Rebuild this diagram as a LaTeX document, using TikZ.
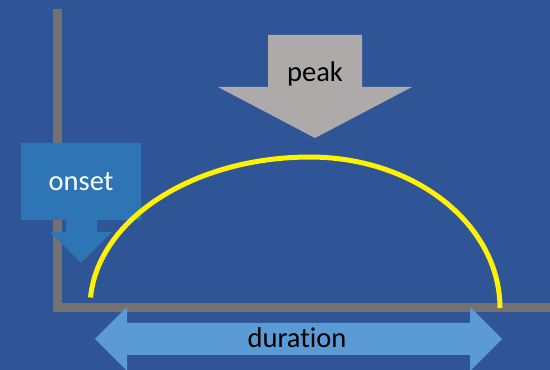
\documentclass[tikz,border=0pt]{standalone}
\usepackage{fontspec}
\setmainfont{Carlito}[Ligatures=NoCommon]
\definecolor{bgblue}{HTML}{2F5597}
\definecolor{axisgray}{HTML}{767171}
\definecolor{onsetblue}{HTML}{2E75B6}
\definecolor{peakgray}{HTML}{AEAAAA}
\definecolor{spanblue}{HTML}{5B9BD5}
\tikzstyle{axis}=[draw=axisgray,line width=9.5pt,line join=miter]
\tikzstyle{curve}=[draw=yellow,line width=5pt]
\tikzstyle{tag}=[inner sep=0pt,font=\fontsize{28.5}{32}\selectfont]

\begin{document}
\begin{tikzpicture}[x=1pt,y=1pt]
	\useasboundingbox (0,0) rectangle (550,370);
	\fill[bgblue] (0,0) rectangle (550,370);
	% axes
	\draw[axis] (57.5,361) -- (57.5,62.5) -- (552,62.5);
	% peak arrow
	\fill[peakgray] (268,335) -- (362,335) -- (362,283) -- (412,283) --
		(315,232) -- (218,283) -- (268,283) -- cycle;
	\node (peak) [tag,text=black] at (315,296) {peak};
	% onset callout
	\fill[onsetblue] (21,227) -- (141,227) -- (141,150) -- (97,150) --
		(97,138) -- (112,138) -- (81,107) -- (50,138) -- (66,138) --
		(66,150) -- (21,150) -- cycle;
	\node (onset) [tag,text=white] at (81,188) {onset};
	% response curve
	\draw[curve] (90.5,72.5) arc[start angle=176,end angle=90,x radius=220,y radius=151]
		arc[start angle=90,end angle=0,x radius=190,y radius=151];
	% duration arrow
	\fill[spanblue] (95,31) -- (127,63) -- (127,47) -- (470,47) -- (470,63) --
		(502,31) -- (470,-1) -- (470,15) -- (127,15) -- (127,-1) -- cycle;
	\node (duration) [tag,text=black] at (297,32) {duration};
\end{tikzpicture}
\end{document}
